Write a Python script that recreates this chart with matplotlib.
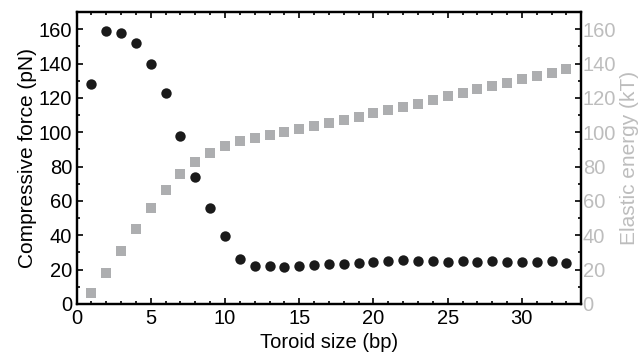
import numpy as np
import matplotlib
matplotlib.use("Agg")
import matplotlib.pyplot as plt
from matplotlib.ticker import MultipleLocator

plt.rcParams['font.family'] = ['Liberation Sans', 'DejaVu Sans']

# toroid size in bp
size = np.arange(1, 34)
# compressive force (pN)
force = [128, 159, 158, 152, 139.5, 123, 98, 74, 56, 39.5, 26, 22, 22, 21.5, 22,
         22.5, 23.5, 23.4, 23.6, 24.2, 24.9, 25.4, 24.8, 24.9, 24.4, 24.8, 24.2,
         24.8, 24.2, 24.6, 24.2, 24.8, 24.0]
# elastic energy (kT)
energy = [6.6, 18.2, 31, 43.6, 56, 66.3, 75.8, 82.6, 87.8, 92, 95, 96.9, 98.3,
          100.2, 102, 103.5, 105.2, 107, 108.6, 110.9, 112.8, 114.7, 116.7, 119,
          121.1, 122.9, 125.2, 126.9, 128.7, 130.8, 132.6, 134.5, 136.6]

black = '#1a1a1a'
gray = '#adaeb0'
label_gray = '#bdbdbd'
fs = 14.5

fig = plt.figure(figsize=(6.43, 3.53), dpi=100)
ax = fig.add_axes([0.119, 0.139, 0.785, 0.827])
ax2 = ax.twinx()

ax2.scatter(size, energy, marker='s', s=46, color=gray, linewidths=0, zorder=2)
ax.scatter(size, force, marker='o', s=56, color=black, linewidths=0, zorder=3)
ax.set_zorder(ax2.get_zorder() + 1)
ax.patch.set_visible(False)

for a in (ax, ax2):
    a.set_xlim(0, 34)
    a.set_ylim(0, 170)
    a.yaxis.set_major_locator(MultipleLocator(20))
    a.yaxis.set_minor_locator(MultipleLocator(10))
    for s in a.spines.values():
        s.set_linewidth(1.6)

ax.xaxis.set_major_locator(MultipleLocator(5))
ax.xaxis.set_minor_locator(MultipleLocator(1))
ax.tick_params(which='both', direction='in', top=True, labelsize=fs, width=1.2, pad=3)
ax.tick_params(axis='x', pad=4)
ax.tick_params(which='major', length=4)
ax.tick_params(which='minor', length=2.5)
ax2.tick_params(which='both', direction='in', labelsize=fs, width=1.2,
                labelcolor=label_gray, pad=1)
ax2.tick_params(which='major', length=4)
ax2.tick_params(which='minor', length=2.5)

ax.set_xlabel('Toroid size (bp)', fontsize=fs, labelpad=3)
ax.set_ylabel('Compressive force (pN)', fontsize=15, labelpad=1)
ax2.set_ylabel('Elastic energy (kT)', fontsize=15, color=label_gray, labelpad=3)

fig.savefig('out.png', dpi=100)
